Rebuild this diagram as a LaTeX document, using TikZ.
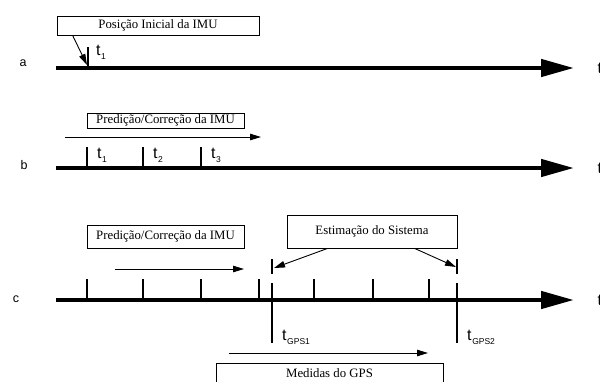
\documentclass[tikz,border=0pt]{standalone}
\usepackage{fontspec}
\setmainfont{Liberation Serif}
\newfontfamily\lblfont{Liberation Sans}
\usetikzlibrary{arrows.meta,calc}
% time label with a lowered subscript
\newcommand\tlbl[1]{\lblfont t\kern0.6pt\raisebox{-0.55ex}{\fontsize{8.5}{9}\selectfont #1}}
\begin{document}
\begin{tikzpicture}[x=1pt,y=-1pt,
  eixo/.style={line width=4.6pt, -{Triangle[length=33pt,width=17pt]}},
  marca/.style={line width=1.1pt},
  marcagps/.style={line width=2.4pt},
  fluxo/.style={line width=1pt, -{Triangle[length=11pt,width=6.5pt]}},
  seta/.style={line width=0.9pt, -{Triangle[length=11pt,width=6.5pt]}},
  caixa/.style={draw, line width=0.8pt, inner sep=0pt,
    font=\fontsize{12.8}{14}\selectfont},
  tempo/.style={anchor=base west, inner sep=0pt, font=\fontsize{16}{17}\selectfont},
  linha/.style={inner sep=0pt, font=\lblfont\fontsize{12.5}{13}\selectfont}]
\clip (0,0) rectangle (600,381);
\useasboundingbox (0,0) rectangle (600,381);

% ---- a: initial IMU position
\node[linha] (la) at (23,63) {a};
\coordinate (a0) at (56,68);
\coordinate (a1) at (574,68);
\draw[eixo] (a0) -- (a1);
\node[tempo] (ta) at (597.5,73) {\lblfont t};
\node[caixa, minimum width=202pt, minimum height=19pt] (pa) at (158,25.5) {Posição Inicial da IMU};
\coordinate (ka) at (88,68);
\draw[marca] (ka) -- ++(0,-21);
\node[tempo] (ta1) at (96,55) {\tlbl{1}};
\draw[seta] ($(pa.south west)+(16,0)$) -- ($(ka)+(-1,-3)$);

% ---- b: IMU prediction / correction
\node[linha] (lb) at (24,165) {b};
\coordinate (b0) at (56,168);
\coordinate (b1) at (574,168);
\draw[eixo] (b0) -- (b1);
\node[tempo] (tb) at (597.5,173) {\lblfont t};
\node[caixa, minimum width=157pt, minimum height=15pt] (pb) at (165.5,120.5) {Predição/Correção da IMU};
\coordinate (fb0) at (65,137);
\coordinate (fb1) at (261,137);
\draw[fluxo] (fb0) -- (fb1);
\foreach \x/\n in {87/1,143/2,201/3}{
  \draw[marca] (\x,168) -- (\x,147);
  \node[tempo] (tb\n) at (\x+10,158) {\tlbl{\n}};
}

% ---- c: system estimation with GPS
\node[linha] (lc) at (16,299) {c};
\coordinate (c0) at (56,300);
\coordinate (c1) at (574,300);
\draw[eixo] (c0) -- (c1);
\node[tempo] (tc) at (597.5,305) {\lblfont t};
\node[caixa, minimum width=157pt, minimum height=23pt] (pc) at (165.5,236.5) {Predição/Correção da IMU};
\coordinate (fc0) at (115,269);
\coordinate (fc1) at (244,269);
\draw[fluxo] (fc0) -- (fc1);
\foreach \x in {87,143,201,259,314,373,429}{
  \draw[marca] (\x,300) -- (\x,279);
}
% GPS epochs
\foreach \x/\n in {272/1,457/2}{
  \coordinate (g\n) at (\x,259);
  \draw[marcagps] (g\n) -- (\x,274);
  \draw[marcagps] (\x,283) -- (\x,300);
  \draw[marca] (\x,300) -- (\x,343);
  \node[tempo] (tg\n) at (\x+10,340) {\tlbl{GPS\n}};
}
\node[caixa, minimum width=170pt, minimum height=33pt] (est) at (372,231.5) {Estimação do Sistema};
\draw[seta] ($(est.south west)+(41,0)$) -- ($(g1)+(2,9)$);
\draw[seta] ($(est.south west)+(128,0)$) -- ($(g2)+(-1,8)$);

\coordinate (fg0) at (229,353);
\coordinate (fg1) at (428,353);
\draw[fluxo] (fg0) -- (fg1);
\node[caixa, minimum width=227pt, minimum height=20pt] (gps) at (329.5,373) {Medidas do GPS};
\end{tikzpicture}
\end{document}
